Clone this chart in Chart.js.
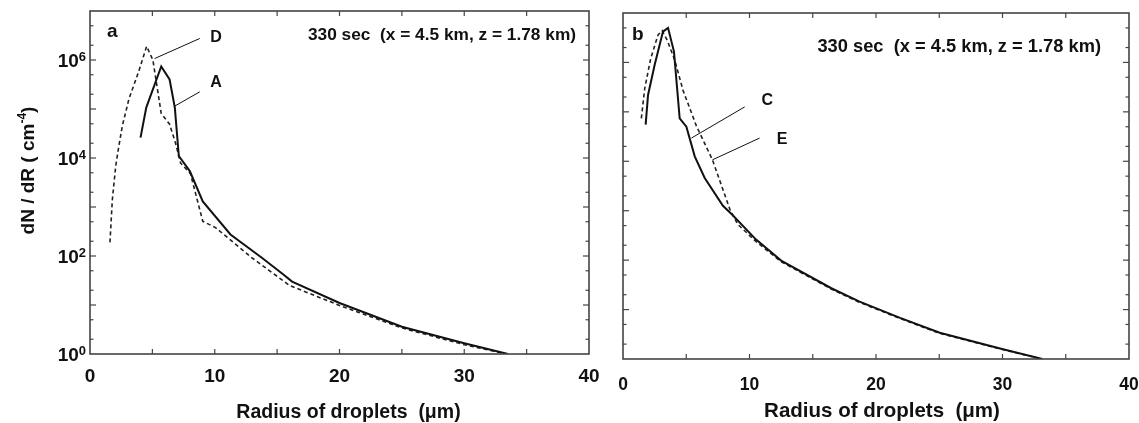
<!DOCTYPE html>
<html>
<head>
<meta charset="utf-8">
<script src="https://cdn.jsdelivr.net/npm/chart.js@4.4.1/dist/chart.umd.min.js"></script>
<style>
  body { margin: 0; background: #fff; }
  #wrap { position: relative; width: 1139px; height: 423px; }
  canvas { position: absolute; top: 0; }
</style>
</head>
<body>
<div id="wrap">
  <canvas id="chartA" width="600" height="423" style="left:0"></canvas>
  <canvas id="chartB" width="539" height="423" style="left:600px"></canvas>
</div>
<script>
// panel a, curve A (solid)
const radiusA = [4.05, 4.51, 5.71, 6.38, 6.8, 7.12, 8.0, 9.04, 11.26, 13.8, 15.5, 16.2, 20, 25, 30, 33.5];
const valuesA = [26000, 107000, 740000, 400000, 107000, 11000, 5400, 1300, 275, 91, 42, 30, 11, 3.6, 1.66, 1];
// panel a, curve D (dashed)
const radiusD = [1.6, 1.79, 2.06, 2.27, 2.59, 3.12, 3.92, 4.54, 5.04, 5.71, 6.38, 6.86, 7.26, 8.05, 9.04, 10.06, 13, 16, 20, 25, 30, 33.4];
const valuesD = [190, 1400, 6800, 15000, 45000, 160000, 600000, 1900000, 1000000, 81000, 49000, 20000, 7900, 4800, 510, 380, 91, 25, 9.8, 3.4, 1.55, 1];
// panel b, curve C (solid)
const radiusC = [1.79, 1.98, 2.5, 3.16, 3.56, 4.03, 4.48, 5.01, 5.67, 6.46, 7.9, 8.6, 10.5, 12.5, 16.47, 18.7, 21.9, 25.04, 30.04, 33.15];
const valuesC = [55000, 220000, 890000, 4200000, 5000000, 1660000, 74000, 50000, 12600, 4600, 1260, 850, 263, 98, 27, 14.5, 6.8, 3.4, 1.58, 1];
// panel b, curve E (dashed)
const radiusE = [1.45, 1.72, 2.19, 2.77, 3.1, 3.5, 4.09, 4.74, 5.8, 7.07, 8.5, 9.09, 10.5, 12.5, 16.47, 18.7, 21.9, 25.04, 30.04, 33.1];
const valuesE = [74000, 300000, 1200000, 3600000, 4400000, 2800000, 1120000, 275000, 52000, 10700, 980, 525, 240, 93, 26, 14, 6.6, 3.3, 1.55, 1];

const xTickLabels = [0, 10, 20, 30, 40];
const yTickExps = [0, 2, 4, 6];
const titleText = '330 sec  (x = 4.5 km, z = 1.78 km)';

const FONT = '"Liberation Sans", Arial, sans-serif';
const toPoints = (xs, ys) => xs.map((x, i) => ({ x: x, y: ys[i] }));

// draws a run of text pieces (some raised) centred or aligned at x
function drawPieces(ctx, pieces, x, y, align) {
  let total = 0;
  pieces.forEach(p => {
    ctx.font = 'bold ' + p.size + 'px ' + FONT;
    p.w = ctx.measureText(p.t).width;
    total += p.w;
  });
  let cx = align === 'center' ? x - total / 2 : (align === 'right' ? x - total : x);
  ctx.textAlign = 'left';
  pieces.forEach(p => {
    ctx.font = 'bold ' + p.size + 'px ' + FONT;
    ctx.fillText(p.t, cx, y + (p.dy || 0));
    cx += p.w;
  });
}

const decorPlugin = {
  id: 'decor',
  afterDraw(chart, args, o) {
    const ctx = chart.ctx;
    const a = chart.chartArea;
    const xs = chart.scales.x, ys = chart.scales.y;
    const seg = (x1, y1, x2, y2) => { ctx.beginPath(); ctx.moveTo(x1, y1); ctx.lineTo(x2, y2); ctx.stroke(); };
    ctx.save();
    ctx.strokeStyle = '#444';
    ctx.lineWidth = 1.6;
    ctx.strokeRect(a.left, a.top, a.right - a.left, a.bottom - a.top);
    ctx.lineWidth = 1.2;
    for (let v = 5; v < 40; v += 5) {
      const px = xs.getPixelForValue(v);
      seg(px, a.bottom, px, a.bottom - 5);
      seg(px, a.top, px, a.top + 5);
    }
    for (let e = 0; e < 7; e++) {
      [1, 2, 5].forEach(m => {
        if (e === 0 && m === 1) return;
        const py = ys.getPixelForValue(m * Math.pow(10, e));
        const len = m === 1 ? 6 : 3.5;
        seg(a.left, py, a.left + len, py);
        seg(a.right, py, a.right - len, py);
      });
    }

    ctx.fillStyle = '#111';
    ctx.textBaseline = 'alphabetic';
    // x tick labels
    xTickLabels.forEach(v => {
      ctx.font = 'bold ' + o.tickSize + 'px ' + FONT;
      ctx.textAlign = 'center';
      ctx.fillText(String(v), xs.getPixelForValue(v), a.bottom + o.tickDy);
    });
    // y tick labels (powers of ten)
    if (o.yLabels) {
      yTickExps.forEach(e => {
        const py = ys.getPixelForValue(Math.pow(10, e));
        drawPieces(ctx, [
          { t: '10', size: o.tickSize },
          { t: String(e), size: 13, dy: -6 }
        ], a.left - 4, py + 7, 'right');
      });
      ctx.save();
      ctx.translate(27, (a.top + a.bottom) / 2 - 12);
      ctx.rotate(-Math.PI / 2);
      drawPieces(ctx, [
        { t: 'dN / dR ( cm', size: 19 },
        { t: '-4', size: 12, dy: -8 },
        { t: ')', size: 19 }
      ], 0, 7, 'center');
      ctx.restore();
    }
    // x axis title
    drawPieces(ctx, [{ t: 'Radius of droplets  (\u03bcm)', size: o.axisSize }],
      (a.left + a.right) / 2 + o.axisDx, o.axisY, 'center');
    // panel letter and time label
    drawPieces(ctx, [{ t: o.letter, size: 19 }], a.left + o.letterDx, a.top + o.letterDy, 'left');
    drawPieces(ctx, [{ t: titleText, size: o.titleSize }], a.left + o.titleRight, a.top + o.titleDy, 'right');
    // curve labels with leader lines
    ctx.strokeStyle = '#111';
    ctx.lineWidth = 1;
    o.leaders.forEach(l => {
      seg(xs.getPixelForValue(l.from[0]), ys.getPixelForValue(l.from[1]),
          xs.getPixelForValue(l.to[0]), ys.getPixelForValue(l.to[1]));
      ctx.font = 'bold 16px ' + FONT;
      ctx.textAlign = 'center';
      ctx.textBaseline = 'middle';
      ctx.fillText(l.text, xs.getPixelForValue(l.at[0]), ys.getPixelForValue(l.at[1]));
      ctx.textBaseline = 'alphabetic';
    });
    ctx.restore();
  }
};

function makePanel(id, padding, sets, decor) {
  return new Chart(document.getElementById(id), {
    type: 'line',
    data: { datasets: sets },
    options: {
      responsive: false,
      animation: false,
      layout: { padding: padding },
      scales: {
        x: { type: 'linear', min: 0, max: 40, display: false },
        y: { type: 'logarithmic', min: 1, max: 1e7, display: false }
      },
      elements: { point: { radius: 0 }, line: { tension: 0 } },
      plugins: { legend: { display: false }, tooltip: { enabled: false }, decor: decor }
    },
    plugins: [decorPlugin]
  });
}

const solid = (pts) => ({ data: pts, borderColor: '#111', borderWidth: 2, fill: false });
const dashed = (pts) => ({ data: pts, borderColor: '#222', borderWidth: 1.6, borderDash: [4, 3], fill: false });

makePanel('chartA', { left: 90, top: 11, right: 11, bottom: 69 },
  [solid(toPoints(radiusA, valuesA)), dashed(toPoints(radiusD, valuesD))],
  {
    yLabels: true, tickSize: 19, tickDy: 28, axisSize: 19.5, axisDx: 9, axisY: 418,
    letter: 'a', letterDx: 17, letterDy: 26, titleSize: 17.3, titleRight: 486, titleDy: 29,
    leaders: [
      { from: [5.18, 1.07e6], to: [8.8, 2.75e6], text: 'D', at: [10.1, 2.9e6] },
      { from: [6.72, 1.12e5], to: [8.8, 2.24e5], text: 'A', at: [10.1, 3.5e5] }
    ]
  });

makePanel('chartB', { left: 23, top: 13, right: 10, bottom: 64 },
  [solid(toPoints(radiusC, valuesC)), dashed(toPoints(radiusE, valuesE))],
  {
    yLabels: false, tickSize: 17.5, tickDy: 31, axisSize: 20.5, axisDx: 6, axisY: 417,
    letter: 'b', letterDx: 9, letterDy: 27, titleSize: 18.3, titleRight: 478, titleDy: 38.5,
    leaders: [
      { from: [5.41, 2.95e4], to: [9.62, 1.26e5], text: 'C', at: [11.4, 1.7e5] },
      { from: [7.07, 1.07e4], to: [10.8, 2.95e4], text: 'E', at: [12.58, 2.7e4] }
    ]
  });
</script>
</body>
</html>
